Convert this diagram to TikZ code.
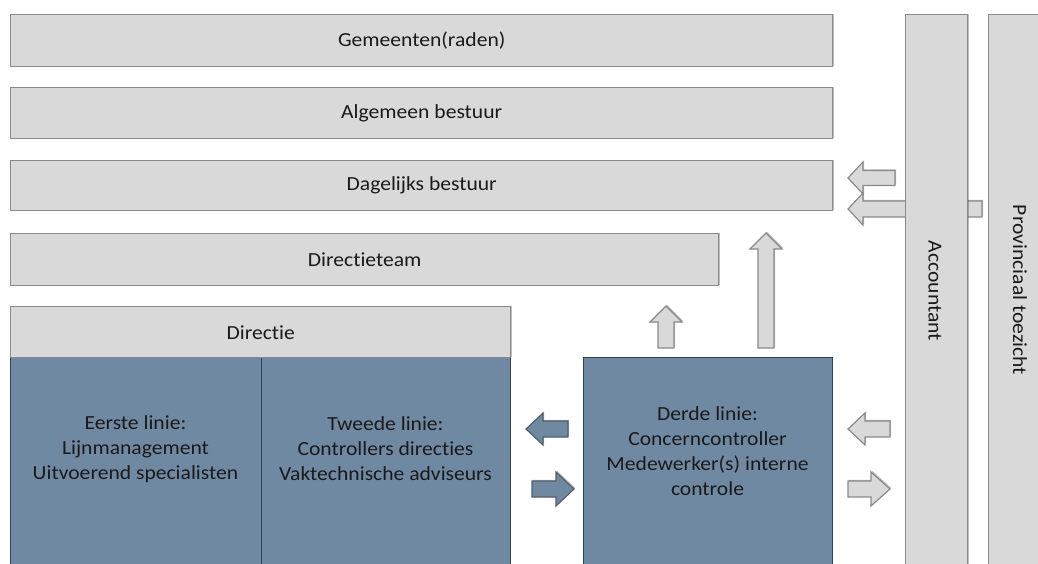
\documentclass[tikz,border=0pt]{standalone}
\usepackage{fontspec}
\setmainfont{Carlito}[Ligatures=NoCommon,FakeStretch=1.08]
\usetikzlibrary{shadows}
\definecolor{boxgray}{HTML}{D9D9D9}
\definecolor{edgegray}{HTML}{8A8A8A}
\definecolor{slate}{HTML}{6F89A2}
\definecolor{slateedge}{HTML}{34414F}
\definecolor{txt}{HTML}{1A1A1A}
\tikzset{
  shd/.style={drop shadow={shadow xshift=1.2pt,shadow yshift=1.2pt,opacity=0.25,fill=black}},
  graybox/.style={shd,draw=edgegray,line width=1.4pt,fill=boxgray,anchor=north west,inner sep=0pt,
    text=txt,font=\fontsize{20}{25}\selectfont,align=center},
  bluebox/.style={draw=slateedge,line width=1.2pt,fill=slate,anchor=north west,inner sep=0pt},
  lbl/.style={text=txt,font=\fontsize{20}{25}\selectfont,align=center,inner sep=0pt},
  grayarrow/.style={shd,draw=edgegray,line width=1.2pt,fill=boxgray,line join=miter},
  bluearrow/.style={shd,draw=slateedge!85,line width=1.2pt,fill=slate,line join=miter},
}
\begin{document}
\begin{tikzpicture}[x=1pt,y=-1pt]
\clip (0,0) rectangle (1038,563);
\fill[white] (0,0) rectangle (1038,563);
% top boxes
\node[graybox,minimum width=822pt,minimum height=52pt] (gem) at (10,14) {Gemeenten(raden)};
\node[graybox,minimum width=822pt,minimum height=51pt] (ab) at (10,87) {Algemeen bestuur};
\node[graybox,minimum width=822pt,minimum height=50pt] (db) at (10,160) {Dagelijks bestuur};
\node[graybox,minimum width=708pt,minimum height=52pt] (dt) at (10,233) {Directieteam};
% blue blocks
\node[bluebox,minimum width=251pt,minimum height=230pt] (eerste) at (10,357) {};
\node[bluebox,minimum width=249pt,minimum height=230pt] (tweede) at (261,357) {};
\node[graybox,minimum width=500pt,minimum height=51pt] (dir) at (10,306) {Directie};
\node[lbl] (eerstet) at (135.5,449) {Eerste linie:\\Lijnmanagement\\Uitvoerend specialisten};
\node[lbl] (tweedet) at (385.5,449) {Tweede linie:\\Controllers directies\\Vaktechnische adviseurs};
\node[bluebox,minimum width=249pt,minimum height=230pt] (derde) at (583,357) {};
\node[lbl] (derdet) at (707.5,451) {Derde linie:\\Concerncontroller\\Medewerker(s) interne\\controle};
% arrow from provinciaal (behind accountant)
\draw[grayarrow] (848,209) -- (863,193) -- (863,201) -- (982,201) -- (982,217) -- (863,217) -- (863,225) -- cycle;
% accountant and provinciaal columns
\node[graybox,minimum width=62pt,minimum height=560pt] (acc) at (905,14) {};
\node[lbl,rotate=-90] (acct) at (935,291) {Accountant};
\node[graybox,minimum width=60pt,minimum height=560pt] (prov) at (988,14) {};
\node[lbl,rotate=-90] (provt) at (1020,290) {Provinciaal toezicht};
% arrow accountant -> dagelijks bestuur
\draw[grayarrow] (848,178) -- (863,162) -- (863,170.5) -- (895,170.5) -- (895,185.5) -- (863,185.5) -- (863,194) -- cycle;
% vertical arrows from derde linie
\draw[grayarrow] (666,306) -- (682,322) -- (674,322) -- (674,348) -- (658,348) -- (658,322) -- (650,322) -- cycle;
\draw[grayarrow] (766,233) -- (782,249) -- (774,249) -- (774,348) -- (758,348) -- (758,249) -- (750,249) -- cycle;
% blue arrows between tweede and derde
\draw[bluearrow] (526,429) -- (543,413) -- (543,421) -- (568,421) -- (568,437) -- (543,437) -- (543,445) -- cycle;
\draw[bluearrow] (574,489) -- (556,472) -- (556,481) -- (532,481) -- (532,497) -- (556,497) -- (556,506) -- cycle;
% gray arrows between derde and accountant
\draw[grayarrow] (848,429) -- (865,413) -- (865,421) -- (890,421) -- (890,437) -- (865,437) -- (865,445) -- cycle;
\draw[grayarrow] (890,489) -- (871,472) -- (871,481) -- (848,481) -- (848,497) -- (871,497) -- (871,506) -- cycle;
\end{tikzpicture}
\end{document}
